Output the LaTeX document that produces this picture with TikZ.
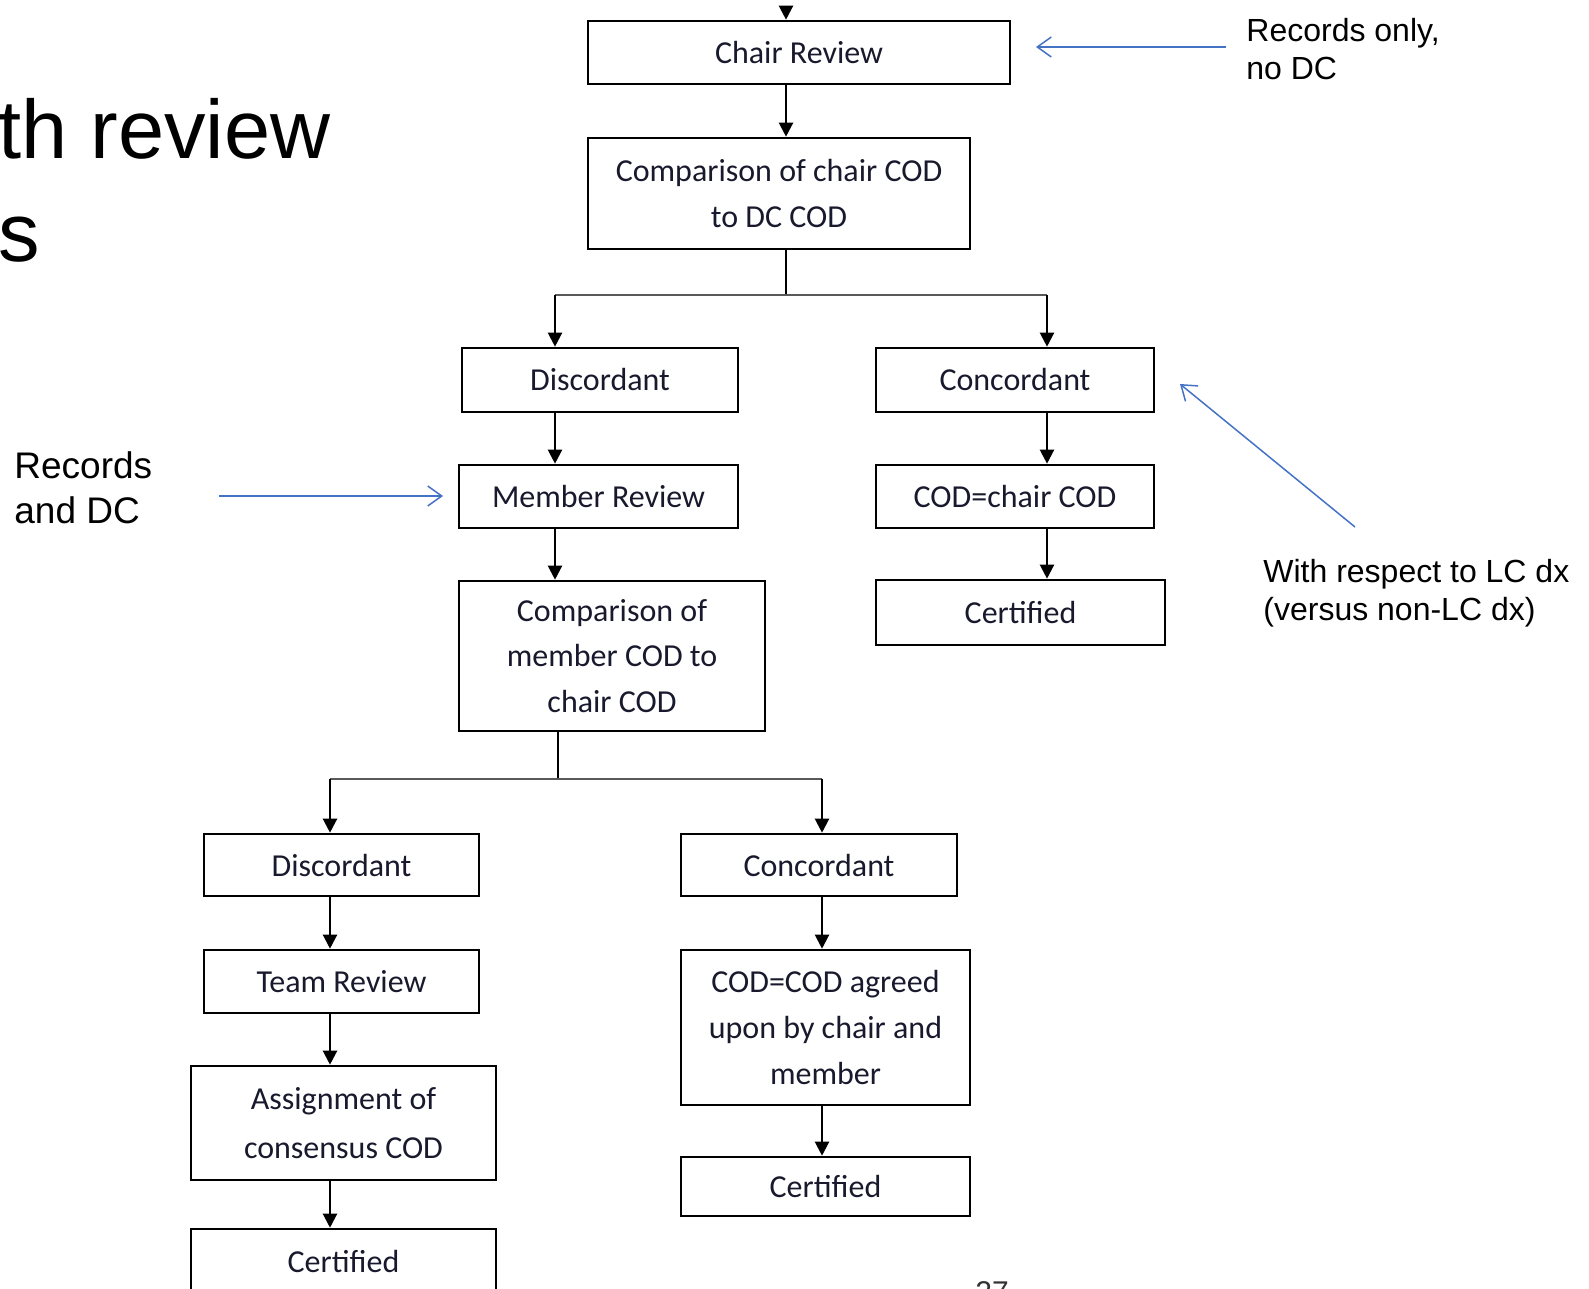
\documentclass[tikz,border=0pt]{standalone}
\usepackage{fontspec}
\setmainfont{Carlito}
\newfontfamily\arialf{Liberation Sans}
\usetikzlibrary{arrows.meta}
\definecolor{annblue}{RGB}{68,114,196}
\definecolor{boxtext}{RGB}{25,25,45}
\begin{document}
\begin{tikzpicture}[x=0.5pt,y=-0.5pt,
 flowbox/.style 2 args={draw=black, line width=1.3pt, minimum width=#1*0.5pt, minimum height=#2*0.5pt, inner sep=0pt, align=center, text=boxtext, font=\fontsize{16}{22.8}\selectfont},
 flow/.style={line width=1.1pt, -{Triangle[length=7pt,width=7pt]}},
 stem/.style={line width=1.1pt},
 branch/.style={line width=1.3pt, draw=black!65},
 note/.style={font=\arialf\fontsize{16}{18.75}\selectfont, align=left, anchor=west, inner sep=0pt},
 notearrow/.style={draw=annblue, line width=0.75pt, -{Straight Barb[length=7pt,width=10pt]}}
]
\useasboundingbox (0,0) rectangle (1589,1289);

% title fragment
\node[anchor=north west, inner sep=0pt, align=left, font=\arialf\fontsize{41.5}{51.5}\selectfont] (title) at (-2,98) {th review\\s};

% boxes
\node[flowbox={422}{63}] (chair) at (799,52.5) {Chair Review};
\node[flowbox={382}{111}] (cmp1) at (779,193.5) {Comparison of chair COD\\to DC COD};
\node[flowbox={276}{64}] (disc1) at (600,380) {Discordant};
\node[flowbox={278}{64}] (conc1) at (1015,380) {Concordant};
\node[flowbox={279}{63}] (mem) at (598.5,496.5) {Member Review};
\node[flowbox={278}{63}] (codc) at (1015,496.5) {COD=chair COD};
\node[flowbox={289}{65}] (cert1) at (1020.5,612.5) {Certified};
\node[flowbox={306}{150}] (cmp2) at (612,656) {Comparison of\\member COD to\\chair COD};
\node[flowbox={275}{62}] (disc2) at (341.5,865) {Discordant};
\node[flowbox={276}{62}] (conc2) at (819,865) {Concordant};
\node[flowbox={275}{63}] (team) at (341.5,981.5) {Team Review};
\node[flowbox={289}{155}] (agreed) at (825.5,1027.5) {COD=COD agreed\\upon by chair and\\member};
\node[flowbox={305}{114}, font=\fontsize{16}{24.2}\selectfont] (assign) at (343.5,1123) {Assignment of\\consensus COD};
\node[flowbox={289}{59}] (cert2) at (825.5,1186.5) {Certified};
\node[flowbox={305}{64}] (cert3) at (343.5,1261) {Certified};

% page number fragment (cut by the page edge, as in the reference)
\node[anchor=north west, inner sep=0pt, font=\arialf\fontsize{15}{18}\selectfont, text=black!80] (pnum) at (975,1281) {27};

% columns and branch levels
\coordinate (c0) at (786,0);
\coordinate (c1) at (555,0);
\coordinate (c2) at (1047,0);
\coordinate (c3) at (558,0);
\coordinate (c4) at (330,0);
\coordinate (c5) at (822,0);
\coordinate (b1) at (0,295);
\coordinate (b2) at (0,779);
\coordinate (topin) at (786,7);

% connectors
\draw[flow] (topin) -- (chair.north -| c0);
\draw[flow] (chair.south -| c0) -- (cmp1.north -| c0);
\draw[stem] (cmp1.south -| c0) -- (b1 -| c0);
\draw[branch] (b1 -| c1) -- (b1 -| c2);
\draw[flow] (b1 -| c1) -- (disc1.north -| c1);
\draw[flow] (b1 -| c2) -- (conc1.north -| c2);
\draw[flow] (disc1.south -| c1) -- (mem.north -| c1);
\draw[flow] (mem.south -| c1) -- (cmp2.north -| c1);
\draw[flow] (conc1.south -| c2) -- (codc.north -| c2);
\draw[flow] (codc.south -| c2) -- (cert1.north -| c2);
\draw[stem] (cmp2.south -| c3) -- (b2 -| c3);
\draw[branch] (b2 -| c4) -- (b2 -| c5);
\draw[flow] (b2 -| c4) -- (disc2.north -| c4);
\draw[flow] (b2 -| c5) -- (conc2.north -| c5);
\draw[flow] (disc2.south -| c4) -- (team.north -| c4);
\draw[flow] (team.south -| c4) -- (assign.north -| c4);
\draw[flow] (assign.south -| c4) -- (cert3.north -| c4);
\draw[flow] (conc2.south -| c5) -- (agreed.north -| c5);
\draw[flow] (agreed.south -| c5) -- (cert2.north -| c5);

% annotations
\node[note] (n1) at (1246,49) {Records only,\\no DC};
\coordinate (a1s) at (1226,47);
\coordinate (a1e) at (1036,47);
\draw[notearrow] (a1s) -- (a1e);

\node[note, font=\arialf\fontsize{18.5}{22.5}\selectfont] (n2) at (14,488) {Records\\and DC};
\coordinate (a2s) at (219,496);
\coordinate (a2e) at (443,496);
\draw[notearrow] (a2s) -- (a2e);

\node[note] (n3) at (1263,593) {With respect to LC dx\\(versus non-LC dx)};
\coordinate (a3s) at (1355,527);
\coordinate (a3e) at (1180,384);
\draw[notearrow] (a3s) -- (a3e);
\end{tikzpicture}
\end{document}
